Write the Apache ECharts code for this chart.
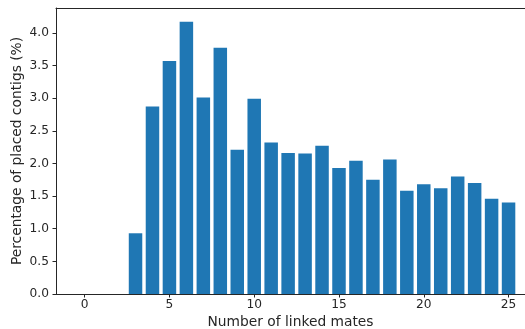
<!DOCTYPE html>
<html>
<head>
<meta charset="utf-8">
<script src="https://cdn.jsdelivr.net/npm/echarts@6/dist/echarts.min.js"></script>
<style>html,body{margin:0;padding:0;background:#fff;}#c{width:525px;height:329px;}</style>
</head>
<body>
<div id="c"></div>
<script>
const linkedMates = [3,4,5,6,7,8,9,10,11,12,13,14,15,16,17,18,19,20,21,22,23,24,25];
const percentPlaced = [0.93,2.87,3.57,4.17,3.01,3.77,2.21,2.99,2.32,2.16,2.15,2.27,1.93,2.04,1.75,2.06,1.58,1.68,1.62,1.80,1.70,1.46,1.40];
const xTicks = [0,5,10,15,20,25];
const yTicks = [0,0.5,1,1.5,2,2.5,3,3.5,4];

const chart = echarts.init(document.getElementById('c'), null, {renderer:'canvas'});
const font = 'DejaVu Sans';
const txt = '#262626';
chart.setOption({
  animation:false,
  backgroundColor:'#fff',
  grid:{left:56, right:0, top:8, bottom:35, containLabel:false, outerBoundsMode:'none'},
  xAxis:[{
    type:'value', min:-1.69, max:25.97,
    name:'Number of linked mates', nameLocation:'middle', nameGap:21, nameMoveOverlap:false,
    nameTextStyle:{fontFamily:font, fontSize:13.8, color:txt},
    axisLine:{show:true, onZero:false, lineStyle:{color:'#262626', width:1}},
    axisTick:{show:true, length:3.5, customValues:xTicks, lineStyle:{color:'#262626'}},
    axisLabel:{customValues:xTicks, fontFamily:font, fontSize:12.2, color:txt, margin:5},
    splitLine:{show:false}
  },{
    type:'value', position:'top', min:-1.69, max:25.97,
    axisLine:{show:true, onZero:false, lineStyle:{color:'#262626', width:1}},
    axisTick:{show:false}, axisLabel:{show:false}, splitLine:{show:false}
  }],
  yAxis:{
    type:'value', min:0, max:4.38, interval:0.5,
    name:'Percentage of placed contigs (%)', nameLocation:'middle', nameGap:32, nameMoveOverlap:false,
    nameTextStyle:{fontFamily:font, fontSize:13.8, color:txt},
    axisLine:{show:true, onZero:false, lineStyle:{color:'#262626', width:1}},
    axisTick:{show:true, length:3.5, customValues:yTicks, lineStyle:{color:'#262626'}},
    axisLabel:{customValues:yTicks, fontFamily:font, fontSize:12.2, color:txt, margin:7,
      formatter:v=>v.toFixed(1)},
    splitLine:{show:false}
  },
  series:[{
    type:'bar',
    xAxisIndex:0,
    data: linkedMates.map((x,i)=>[x, percentPlaced[i]]),
    barWidth:13.5,
    itemStyle:{color:'#1f77b4'}
  }]
});
</script>
</body>
</html>
